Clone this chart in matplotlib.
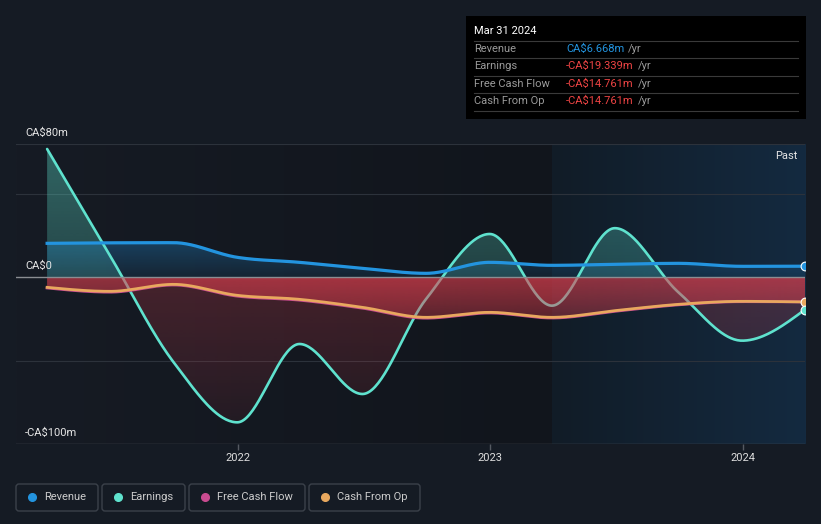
import numpy as np
import pandas as pd
import matplotlib
matplotlib.use('Agg')
import matplotlib.pyplot as plt
import matplotlib.dates as mdates
from matplotlib.colors import to_rgb
from matplotlib.patches import Rectangle, FancyBboxPatch
from matplotlib.lines import Line2D
from matplotlib.transforms import IdentityTransform, blended_transform_factory

plt.rcParams['font.family'] = ['Roboto', 'DejaVu Sans']
plt.rcParams['text.parse_math'] = False

# quarterly values, CA$ millions
quarters = ['2021-03-31', '2021-06-30', '2021-09-30', '2021-12-31', '2022-03-31',
            '2022-06-30', '2022-09-30', '2022-12-31', '2023-03-31', '2023-06-30',
            '2023-09-30', '2023-12-31', '2024-03-31']
revenue = [20.4, 20.7, 20.8, 12.0, 9.0, 5.4, 2.4, 9.0, 7.2, 7.8, 8.4, 6.6, 6.668]
earnings = [77.0, 13.0, -51.0, -87.0, -40.0, -70.0, -13.0, 26.0, -17.0, 29.5, -9.0, -38.0, -19.339]
fcf = [-6.4, -8.9, -4.6, -11.3, -13.7, -18.5, -24.5, -21.4, -24.4, -20.4, -16.5, -14.6, -14.761]
cfo = [-6.0, -8.4, -4.2, -10.8, -13.2, -18.0, -24.0, -21.0, -24.0, -20.0, -16.2, -14.4, -14.761]
past_start = '2023-03-31'

C_REV = '#2394df'
C_EARN = '#5fe2ce'
C_FCF = '#c94b90'
C_CFO = '#e8a85e'
C_NEG = '#e0404f'
BG = '#151b24'

W, H = 821, 524


def monotone(x, y, n=40):
    # monotone cubic (like d3 curveMonotoneX)
    x = np.asarray(x, float)
    y = np.asarray(y, float)
    h = np.diff(x)
    s = np.diff(y) / h
    m = np.zeros_like(y)
    for i in range(1, len(y) - 1):
        if s[i - 1] * s[i] <= 0:
            m[i] = 0
        else:
            p = (s[i - 1] * h[i] + s[i] * h[i - 1]) / (h[i - 1] + h[i])
            m[i] = (np.sign(s[i - 1]) + np.sign(s[i])) * min(abs(s[i - 1]), abs(s[i]), 0.5 * abs(p))
    m[0] = (3 * s[0] - m[1]) / 2
    m[-1] = (3 * s[-1] - m[-2]) / 2
    xs, ys = [], []
    for i in range(len(y) - 1):
        t = np.linspace(0, 1, n, endpoint=(i == len(y) - 2))
        h00 = 2 * t**3 - 3 * t**2 + 1
        h10 = t**3 - 2 * t**2 + t
        h01 = -2 * t**3 + 3 * t**2
        h11 = t**3 - t**2
        xs.append(x[i] + t * h[i])
        ys.append(h00 * y[i] + h10 * h[i] * m[i] + h01 * y[i + 1] + h11 * h[i] * m[i + 1])
    return np.concatenate(xs), np.concatenate(ys)


def grad_fill(ax, xs, ys, color, a_near, a_far, sign, z):
    if sign > 0:
        yy = np.maximum(ys, 0)
        lim = yy.max()
    else:
        yy = np.minimum(ys, 0)
        lim = yy.min()
    if lim == 0:
        return
    poly = ax.fill_between(xs, 0, yy, color='none', lw=0)
    img = np.zeros((100, 1, 4))
    img[..., :3] = to_rgb(color)
    if sign > 0:
        img[:, 0, 3] = np.linspace(a_near, a_far, 100)
        ext = [xs[0], xs[-1], 0, lim]
    else:
        img[:, 0, 3] = np.linspace(a_far, a_near, 100)
        ext = [xs[0], xs[-1], lim, 0]
    im = ax.imshow(img, extent=ext, origin='lower', aspect='auto', zorder=z, interpolation='bilinear')
    im.set_clip_path(poly.get_paths()[0], ax.transData)


fig = plt.figure(figsize=(W / 100, H / 100), dpi=100, facecolor=BG)
ax = fig.add_axes([16 / W, (H - 444) / H, 789 / W, 300 / H])
ax.set_facecolor(BG)

xn = mdates.date2num(pd.to_datetime(quarters))
xp = mdates.date2num(pd.Timestamp(past_start))
x0 = mdates.date2num(pd.Timestamp('2021-02-14'))
x1 = xn[-1]

# backgrounds
def hgrad(c0, c1):
    a = np.array(to_rgb(c0))
    b = np.array(to_rgb(c1))
    return (a[None, :] + np.linspace(0, 1, 200)[:, None] * (b - a))[None, :, :]

ax.imshow(hgrad('#161b24', '#11151c'), extent=[x0, xp, -100, 80], aspect='auto', zorder=0)
ax.imshow(hgrad('#111c27', '#142a40'), extent=[xp, x1, -100, 80], aspect='auto', zorder=0)

for g in [80, 50, -50]:
    ax.axhline(g, color='#2c323b', lw=0.8, zorder=0.5)
ax.axhline(-100, color='#4b5058', lw=1, zorder=0.5)

sx, s_rev = monotone(xn, revenue)
_, s_earn = monotone(xn, earnings)
_, s_fcf = monotone(xn, fcf)
_, s_cfo = monotone(xn, cfo)

# fills
grad_fill(ax, sx, s_earn, C_EARN, 0.22, 0.38, 1, 1)
grad_fill(ax, sx, s_earn, C_NEG, 0.25, 0.08, -1, 1)
grad_fill(ax, sx, s_rev, C_REV, 0.10, 0.32, 1, 1.1)
ax.plot(sx, s_earn, color=C_EARN, lw=1.9, zorder=2, solid_capstyle='round')
grad_fill(ax, sx, s_fcf, C_NEG, 0.38, 0.2, -1, 2.5)
grad_fill(ax, sx, s_cfo, C_NEG, 0.38, 0.2, -1, 2.5)

ax.axhline(0, color='#8a8d92', lw=1, zorder=3)
ax.plot(sx, s_rev, color=C_REV, lw=2.3, zorder=4)
ax.plot(sx, s_fcf, color=C_FCF, lw=2.0, zorder=4)
ax.plot(sx, s_cfo, color=C_CFO, lw=2.0, zorder=4.1)

for vals, c in [(revenue, C_REV), (cfo, C_CFO), (earnings, C_EARN)]:
    ax.scatter([xn[-1]], [vals[-1]], s=40, color=c, edgecolor='white', lw=0.8, zorder=6)

ax.set_xlim(x0, x1)
ax.set_ylim(-100, 80)
for sp in ax.spines.values():
    sp.set_visible(False)
ax.set_yticks([])
ax.xaxis.set_major_locator(mdates.YearLocator())
ax.xaxis.set_major_formatter(mdates.DateFormatter('%Y'))
ax.tick_params(axis='x', colors='#555a62', labelcolor='#dddddd', length=4, width=1,
               labelsize=8, pad=2.5)

trans = blended_transform_factory(ax.transAxes, ax.transData)
for v, lab in [(80, 'CA$80m'), (0, 'CA$0'), (-100, '-CA$100m')]:
    ax.annotate(lab, xy=(0.0114, v), xycoords=trans, xytext=(0, 6), textcoords='offset pixels',
                va='bottom', ha='left', color='#e6e6e6', fontsize=8)
ax.text(0.99, 0.96, 'Past', transform=ax.transAxes, ha='right', va='center',
        color='#e6e6e6', fontsize=8)

# tooltip box
px = IdentityTransform()
fig.add_artist(Rectangle((466, H - 119), 340, 103, transform=px, facecolor='black',
                         edgecolor='none', zorder=10))
fig.text(474, H - 31, 'Mar 31 2024', transform=px, color='white', fontsize=8,
         va='center', ha='left', zorder=11)
for yl in [41, 58, 76, 93, 111]:
    fig.add_artist(Line2D([474, 798], [H - yl, H - yl], transform=px, color='#3a3a3a',
                          lw=0.8, zorder=11))
rows = [('Revenue', 'CA$6.668m', C_REV), ('Earnings', '-CA$19.339m', '#ee4444'),
        ('Free Cash Flow', '-CA$14.761m', '#ee4444'), ('Cash From Op', '-CA$14.761m', '#ee4444')]
renderer = fig.canvas.get_renderer()
for (lab, val, c), yc in zip(rows, [49, 66, 84, 101]):
    fig.text(474, H - yc, lab, transform=px, color='#9a9a9a', fontsize=8, va='center', zorder=11)
    t = fig.text(566, H - yc, val, transform=px, color=c, fontsize=8, va='center', zorder=11)
    bb = t.get_window_extent(renderer)
    fig.text(bb.x1 + 4, H - yc, '/yr', transform=px, color='#9a9a9a', fontsize=8,
             va='center', zorder=11)

# legend
leg = [('Revenue', C_REV, 16, 98), ('Earnings', C_EARN, 102, 185),
       ('Free Cash Flow', C_FCF, 189, 305), ('Cash From Op', C_CFO, 309, 420)]
for lab, c, xa, xb in leg:
    fig.add_artist(FancyBboxPatch((xa, H - 511), xb - xa, 27, boxstyle='round,pad=0,rounding_size=3',
                                  transform=px, facecolor='none', edgecolor='#3b414a', lw=1))
    fig.add_artist(Line2D([xa + 16], [H - 497], transform=px, marker='o', markersize=5.5,
                          color=c, lw=0))
    fig.text(xa + 28, H - 497, lab, transform=px, color='#cccccc', fontsize=8, va='center')

fig.savefig('out.png', dpi=100, facecolor=BG)
